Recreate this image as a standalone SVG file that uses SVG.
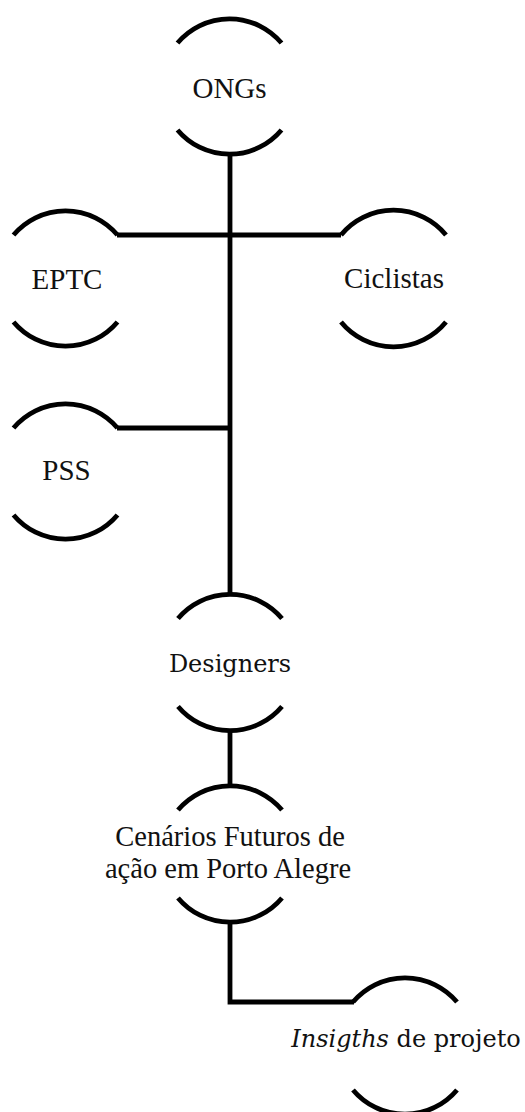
<svg xmlns="http://www.w3.org/2000/svg" width="525" height="1112" viewBox="0 0 525 1112">
<style>
.arc{fill:none;stroke:#000;stroke-width:4.8;stroke-linecap:butt}
.con{fill:none;stroke:#000;stroke-width:4.8;stroke-linejoin:miter}
.t{font-family:"Liberation Serif","Times New Roman",serif;font-size:29px;fill:#111;text-anchor:middle}
.c{font-family:"DejaVu Serif",serif;font-size:24px;fill:#111;text-anchor:middle}
</style>
<rect width="525" height="1112" fill="#fff"/>
<g id="connectors">
<path class="con" d="M230,154 V595"/>
<path class="con" d="M117,235 H341"/>
<path class="con" d="M117,428 H230"/>
<path class="con" d="M230,730 V787"/>
<path class="con" d="M230,921 V1002 H354"/>
</g>
<g id="ongs">
<path class="arc" d="M177.5,43 A68,68 0 0 1 281.5,43"/>
<path class="arc" d="M177.5,130 A68,68 0 0 0 281.5,130"/>
<text class="t" x="229.5" y="98">ONGs</text>
</g>
<g id="eptc">
<path class="arc" d="M13.5,235 A68,68 0 0 1 117.5,235"/>
<path class="arc" d="M13.5,322 A68,68 0 0 0 117.5,322"/>
<text class="t" x="67" y="289">EPTC</text>
</g>
<g id="ciclistas">
<path class="arc" d="M341,235 A68,68 0 0 1 446,235"/>
<path class="arc" d="M341,322 A68,68 0 0 0 446,322"/>
<text class="t" x="394" y="288">Ciclistas</text>
</g>
<g id="pss">
<path class="arc" d="M13.5,428 A68,68 0 0 1 117.5,428"/>
<path class="arc" d="M13.5,515 A68,68 0 0 0 117.5,515"/>
<text class="t" x="66.5" y="480">PSS</text>
</g>
<g id="designers">
<path class="arc" d="M178,618.5 A68,68 0 0 1 282,618.5"/>
<path class="arc" d="M178,706.5 A68,68 0 0 0 282,706.5"/>
<text class="c" x="230" y="672">Designers</text>
</g>
<g id="cenarios">
<path class="arc" d="M178,810 A68,68 0 0 1 282,810"/>
<path class="arc" d="M178,898 A68,68 0 0 0 282,898"/>
<text class="t" style="font-size:28.5px" x="230" y="846"><tspan x="230" y="846">Cenários Futuros de</tspan><tspan x="228" y="878">ação em Porto Alegre</tspan></text>
</g>
<g id="insights">
<path class="arc" d="M353,1002 A68,68 0 0 1 457,1002"/>
<path class="arc" d="M353,1090 A68,68 0 0 0 457,1090"/>
<text class="c" x="406" y="1047"><tspan font-style="italic">Insigths</tspan> de projeto</text>
</g>
</svg>
